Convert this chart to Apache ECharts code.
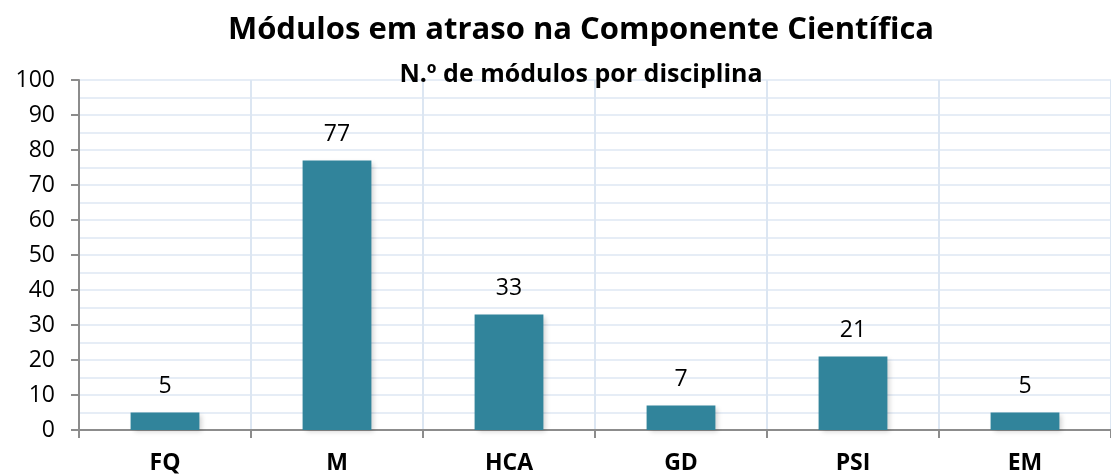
<!DOCTYPE html>
<html>
<head>
<meta charset="utf-8">
<script src="https://cdn.jsdelivr.net/npm/echarts@6/dist/echarts.min.js"></script>
<style>
  html, body { margin: 0; padding: 0; background: #fff; }
  #chart { width: 1111px; height: 476px; }
</style>
</head>
<body>
<div id="chart"></div>
<script>
// disciplinas e n.º de módulos em atraso
var categories = ['FQ', 'M', 'HCA', 'GD', 'PSI', 'EM'];
var modulos = [5, 77, 33, 7, 21, 5];
var yTicks = [0, 10, 20, 30, 40, 50, 60, 70, 80, 90, 100];

var font = 'Open Sans';
var myChart = echarts.init(document.getElementById('chart'));
myChart.setOption({
  animation: false,
  title: [{
    text: 'Módulos em atraso na Componente Científica',
    left: 576, top: 10, textAlign: 'center',
    textStyle: {fontFamily: font, fontSize: 31, fontWeight: 'bold', color: '#000'}
  }, {
    text: 'N.º de módulos por disciplina',
    left: 576, top: 57, textAlign: 'center',
    textStyle: {fontFamily: font, fontSize: 25, fontWeight: 'bold', color: '#000'}
  }],
  grid: {left: 79, top: 80, width: 1045, height: 350, containLabel: false},
  xAxis: {
    type: 'category',
    data: categories,
    axisLine: {lineStyle: {color: '#8c8c8c', width: 2}},
    axisTick: {show: true, length: 8, lineStyle: {color: '#8c8c8c', width: 2}},
    axisLabel: {fontFamily: font, fontSize: 23, fontWeight: 'bold', color: '#000', margin: 22},
    splitLine: {show: true, lineStyle: {color: '#dce6f2', width: 2}}
  },
  yAxis: {
    type: 'value',
    min: 0, max: 100, interval: 10,
    axisLine: {show: true, lineStyle: {color: '#8c8c8c', width: 2}},
    axisTick: {show: true, length: 8, lineStyle: {color: '#8c8c8c', width: 2}},
    axisLabel: {
      fontFamily: font, fontSize: 23, color: '#000', margin: 24,
      formatter: function (v) { return yTicks.indexOf(v) >= 0 ? String(v) : ''; }
    },
    splitLine: {show: true, lineStyle: {color: '#e6edf6', width: 2}},
    minorTick: {show: false, splitNumber: 2},
    minorSplitLine: {show: true, lineStyle: {color: '#e6edf6', width: 2}}
  },
  series: [{
    type: 'bar',
    data: modulos,
    barWidth: '40%',
    itemStyle: {
      color: '#31849b',
      shadowColor: 'rgba(0,0,0,0.18)',
      shadowBlur: 5,
      shadowOffsetX: 3,
      shadowOffsetY: 2
    },
    label: {
      show: true, position: 'top', distance: 15,
      fontFamily: font, fontSize: 23, color: '#000'
    }
  }]
});
</script>
</body>
</html>
